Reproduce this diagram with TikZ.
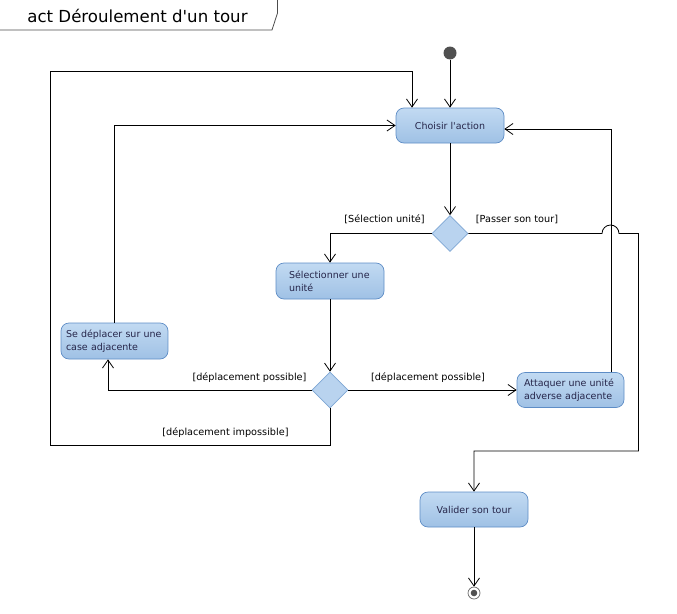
\documentclass[tikz,border=0pt]{standalone}
\usepackage{fontspec}
\setmainfont{DejaVu Sans}[Ligatures=TeXOff]
\usetikzlibrary{shapes.geometric,arrows.meta,calc}
\definecolor{actborder}{HTML}{5E8DC6}
\definecolor{acttop}{HTML}{C2DAF2}
\definecolor{actbot}{HTML}{9FC1E5}
\definecolor{decfill}{HTML}{B9D3EF}
\definecolor{decborder}{HTML}{7EA6D4}
\definecolor{nodetext}{HTML}{26264A}
\definecolor{initfill}{HTML}{505050}
\begin{document}
\begin{tikzpicture}[x=1pt,y=-1pt,
  act/.style={draw=actborder, top color=acttop, bottom color=actbot, rounded corners=8pt,
    minimum height=35pt, line width=0.7pt, text=nodetext,
    font=\fontsize{9.5}{13}\selectfont},
  dec/.style={diamond, draw=decborder, fill=decfill, minimum width=36pt, minimum height=36pt,
    inner sep=0pt, line width=0.6pt},
  initnode/.style={circle, fill=initfill, minimum size=13pt, inner sep=0pt},
  endnode/.style={circle, draw=gray!80!black, fill=white, minimum size=12pt, inner sep=0pt, line width=0.7pt},
  flow/.style={draw=black, line width=0.8pt, -{Straight Barb[length=8pt,width=11pt,line width=0.8pt]}},
  lbl/.style={font=\fontsize{9.7}{11}\selectfont, text=black, inner sep=0pt}
]
\useasboundingbox (0,0) rectangle (677,613);

% frame tab
\draw[line width=0.8pt, draw=gray!60!black] (0,30) -- (272,30) -- (277.5,13) -- (277.5,0);
\node[font=\fontsize{16.6}{20}\selectfont, inner sep=0pt, anchor=base] (title) at (137.5,22) {act Déroulement d'un tour};

% nodes
\node[initnode] (init) at (450,53) {};
\node[act, minimum width=108pt] (choisir) at (450,125.5) {Choisir l'action};
\node[dec] (d1) at (450,233.5) {};
\node[act, align=left, text width=82pt, inner xsep=13pt, inner ysep=2pt, minimum height=36pt] (sel) at (330,281) {Sélectionner une\\unité};
\node[dec] (d2) at (330,390) {};
\node[act, align=left, text width=97pt, inner xsep=5pt, inner ysep=2pt, minimum height=36pt] (sedep) at (114.5,341) {Se déplacer sur une\\case adjacente};
\node[act, align=left, text width=93pt, inner xsep=7pt, inner ysep=2pt, minimum height=35pt] (att) at (570.5,390) {Attaquer une unité\\adverse adjacente};
\node[act, minimum width=108pt] (valider) at (474,509.5) {Valider son tour};
\node[endnode] (fin) at (474,593) {};
\fill[initfill] (fin.center) circle (3.3);

% labels
\node[lbl] (lsel) at (384.5,219) {[Sélection unité]};
\node[lbl] (lpass) at (517,219) {[Passer son tour]};
\node[lbl] (lpos1) at (249.5,377.5) {[déplacement possible]};
\node[lbl] (lpos2) at (428,378) {[déplacement possible]};
\node[lbl] (limp) at (225.5,432.5) {[déplacement impossible]};

% connectors
\draw[flow] (init) -- (choisir);
\draw[flow] (choisir) -- (d1);
\draw[flow] (d1.west) -| (sel.north);
\draw[flow] (sel) -- (d2);
\draw[flow] (d2.east) -- (att.west);
\draw[flow] (d2.west) -| ($(sedep.south)+(-6.5,0)$);
\draw[flow] (sedep.north) |- (choisir.west);
\draw[flow] (d2.south) |- (50.5,445) -- (50.5,71.5) -| ($(choisir.north)+(-38,0)$);
\draw[flow] ($(att.north)+(40.5,0)$) |- ($(choisir.east)+(0,3.5)$);
\draw[flow] (d1.east) -- (602,233.5) arc[start angle=180, end angle=360, radius=8.5] -- (638.5,233.5) -- (638.5,451) -| (valider.north);
\draw[flow] (valider) -- (fin);
\end{tikzpicture}
\end{document}
